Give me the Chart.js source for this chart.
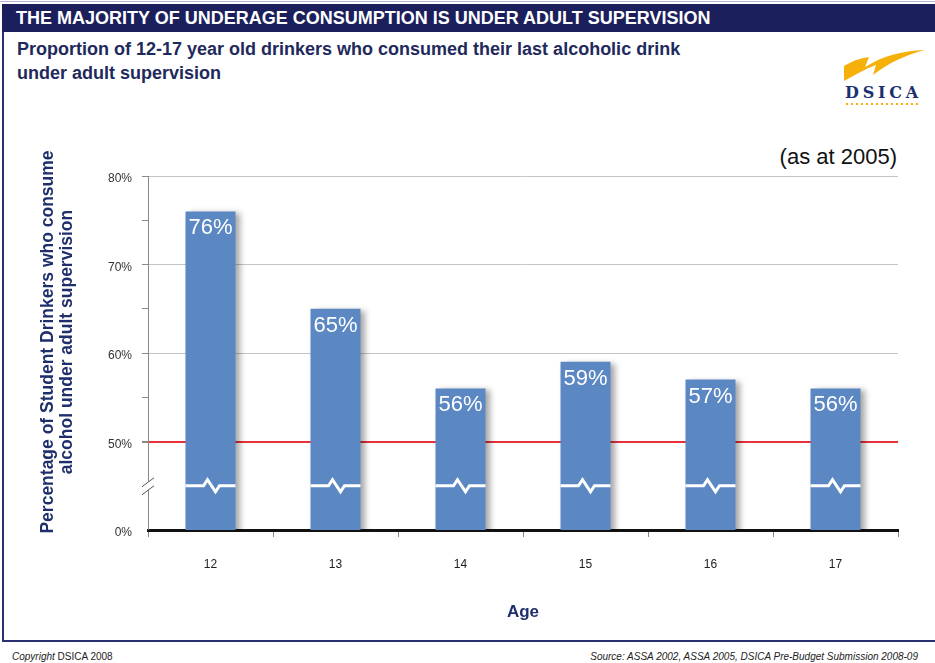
<!DOCTYPE html>
<html>
<head>
<meta charset="utf-8">
<script src="https://cdn.jsdelivr.net/npm/chart.js@4.4.1/dist/chart.umd.min.js"></script>
<style>
  body { margin: 0; background: #fff; font-family: Arial, "Liberation Sans", sans-serif; }
  #page { position: relative; width: 935px; height: 663px; overflow: hidden; }
  #frame { position: absolute; left: 2px; top: 4px; width: 940px; height: 636px; border-left: 2px solid #2a3070; border-bottom: 2px solid #2a3070; }
  #topline { position: absolute; left: 0; top: 1px; width: 935px; height: 1px; background: #b9b4d6; }
  #titlebar { position: absolute; left: 2px; top: 4px; width: 933px; height: 28px; background: #1b1f5c; }
  #title { position: absolute; left: 16px; top: 8px; color: #fff; font: bold 18px Arial, sans-serif; white-space: nowrap; }
  #subtitle { position: absolute; left: 17px; top: 37px; color: #1f2a5c; font: bold 18px Arial, sans-serif; line-height: 24px; }
  #asat { position: absolute; right: 38px; top: 144px; color: #111; font: 22px Arial, sans-serif; }
  #copy { position: absolute; left: 12px; top: 651px; font: 10px Arial, sans-serif; color: #222; }
  #source { position: absolute; right: 17px; top: 651px; font: italic 10px Arial, sans-serif; color: #222; }
  #logo { position: absolute; left: 838px; top: 46px; }
  #chartBox { position: absolute; left: 0; top: 140px; width: 935px; height: 500px; }
</style>
</head>
<body>
<div id="page">
  <div id="topline"></div>
  <div id="frame"></div>
  <div id="titlebar"></div>
  <div id="title">THE MAJORITY OF UNDERAGE CONSUMPTION IS UNDER ADULT SUPERVISION</div>
  <div id="subtitle">Proportion of 12-17 year old drinkers who consumed their last alcoholic drink<br>under adult supervision</div>
  <svg id="logo" width="92" height="62" viewBox="0 0 92 62">
    <path d="M6 20 C14 15 22 12 31 11 L27 21 C45 10 63 5 87 4 C67 9 49 18 35 29 L38 19 C27 23 17 29 6 35 Z" fill="#f5b10a"/>
    <text x="7" y="52" font-family="'DejaVu Serif', 'Liberation Serif', serif" font-size="16" font-weight="bold" fill="#1c2f6e" letter-spacing="3.8">DSICA</text>
    <line x1="8" y1="58" x2="82" y2="58" stroke="#f5b10a" stroke-width="2" stroke-dasharray="2 3"/>
  </svg>
  <div id="asat">(as at 2005)</div>
  <div id="chartBox"><canvas id="chart" width="935" height="500"></canvas></div>
  <div id="copy"><i>Copyright</i> DSICA 2008</div>
  <div id="source">Source: ASSA 2002, ASSA 2005, DSICA Pre-Budget Submission 2008-09</div>
</div>
<script>
// ages on the x axis
var ages = ['12', '13', '14', '15', '16', '17'];
// % of student drinkers who had their last drink under adult supervision
var supervisedPct = [76, 65, 56, 59, 57, 56];
// broken axis: 40 on the scale stands for 0%
var yTickValues = [40, 50, 60, 70, 80];
var yTickText = ['0%', '50%', '60%', '70%', '80%'];
var breakValue = 45;
var yTitleLines = ['Percentage of Student Drinkers who consume', 'alcohol under adult supervision'];

var navy = '#1f2f6b';
var barBlue = '#5b87c3';

// shadow under bars, break marks and value labels
var barExtras = {
    id: 'barExtras',
    beforeDatasetsDraw: function (chart) {
        var ctx = chart.ctx;
        ctx.save();
        ctx.shadowColor = 'rgba(0,0,0,0.35)';
        ctx.shadowBlur = 6;
        ctx.shadowOffsetX = 4;
        ctx.shadowOffsetY = 2;
    },
    afterDatasetsDraw: function (chart) {
        var ctx = chart.ctx;
        ctx.restore();
        var yScale = chart.scales.y;
        var yb = yScale.getPixelForValue(breakValue);
        var meta = chart.getDatasetMeta(0);
        ctx.save();
        meta.data.forEach(function (bar, i) {
            var l = bar.x - bar.width / 2, r = bar.x + bar.width / 2;
            //zigzag break across the bar
            ctx.strokeStyle = '#fff';
            ctx.lineWidth = 3;
            ctx.beginPath();
            ctx.moveTo(l, yb);
            ctx.lineTo(bar.x - 7, yb);
            ctx.lineTo(bar.x - 3, yb - 6);
            ctx.lineTo(bar.x + 5, yb + 6);
            ctx.lineTo(bar.x + 9, yb);
            ctx.lineTo(r, yb);
            ctx.stroke();
            //value label
            ctx.fillStyle = '#fff';
            ctx.font = '22px Arial, sans-serif';
            ctx.textAlign = 'center';
            ctx.textBaseline = 'top';
            ctx.fillText(supervisedPct[i] + '%', bar.x, bar.y + 6);
        });
        //axis break on the y axis
        var ax = yScale.right;
        ctx.fillStyle = '#fff';
        ctx.fillRect(ax - 2, yb - 4, 4, 8);
        ctx.strokeStyle = '#555';
        ctx.lineWidth = 1;
        ctx.beginPath();
        ctx.moveTo(ax - 6, yb + 1); ctx.lineTo(ax + 6, yb - 8);
        ctx.moveTo(ax - 6, yb + 9); ctx.lineTo(ax + 6, yb);
        ctx.stroke();
        ctx.restore();
    },
    afterDraw: function (chart) {
        //y axis title, sits a bit above the middle of the plot
        var ctx = chart.ctx;
        var area = chart.chartArea;
        ctx.save();
        ctx.translate(48, (area.top + area.bottom) / 2 - 11);
        ctx.rotate(-Math.PI / 2);
        ctx.fillStyle = navy;
        ctx.font = 'bold 17.5px Arial, sans-serif';
        ctx.textAlign = 'center';
        ctx.textBaseline = 'middle';
        ctx.fillText(yTitleLines[0], 0, 0);
        ctx.fillText(yTitleLines[1], 0, 19);
        ctx.restore();
    }
};

var ctx = document.getElementById('chart').getContext('2d');
var chart = new Chart(ctx, {
    type: 'bar',
    data: {
        labels: ages,
        datasets: [{
            data: supervisedPct,
            backgroundColor: barBlue,
            borderWidth: 0,
            barPercentage: 0.5,
            categoryPercentage: 0.8
        }]
    },
    options: {
        responsive: false,
        animation: false,
        events: [],
        layout: { padding: { left: 0, top: 36, right: 37, bottom: 17 } },
        plugins: { legend: { display: false }, tooltip: { enabled: false } },
        scales: {
            x: {
                grid: { display: true, drawOnChartArea: false, offset: true, tickLength: 7, color: '#888' },
                border: { color: '#111', width: 3 },
                ticks: { color: '#222', padding: 20, font: { size: 12, family: 'Arial' } },
                title: { display: true, text: 'Age', color: navy, font: { size: 17, weight: 'bold', family: 'Arial' }, padding: 0 },
                afterFit: function (scale) { scale.height = 93; }
            },
            y: {
                min: 40,
                max: 80,
                border: { color: '#888', width: 1 },
                grid: {
                    tickLength: 6,
                    lineWidth: function (c) {
                        var v = c.tick ? c.tick.value : 0;
                        if (v == 40) return 0;
                        return v == 50 ? 2 : 1;
                    },
                    color: function (c) {
                        var v = c.tick ? c.tick.value : 0;
                        if (v == 50) return '#e8303a';
                        if (v == 60 || v == 70 || v == 80) return '#c4c4c4';
                        return 'rgba(0,0,0,0)';
                    },
                    tickColor: function (c) {
                        return c.tick && c.tick.value == breakValue ? 'rgba(0,0,0,0)' : '#888';
                    }
                },
                ticks: {
                    stepSize: 5,
                    autoSkip: false,
                    padding: 10,
                    labelOffset: 3,
                    color: '#333',
                    font: { size: 12, family: 'Arial' },
                    callback: function (value) {
                        var idx = yTickValues.indexOf(value);
                        return idx >= 0 ? yTickText[idx] : '';
                    }
                },
                afterFit: function (scale) { scale.width = 148; }
            }
        }
    },
    plugins: [barExtras]
});
</script>
</body>
</html>
